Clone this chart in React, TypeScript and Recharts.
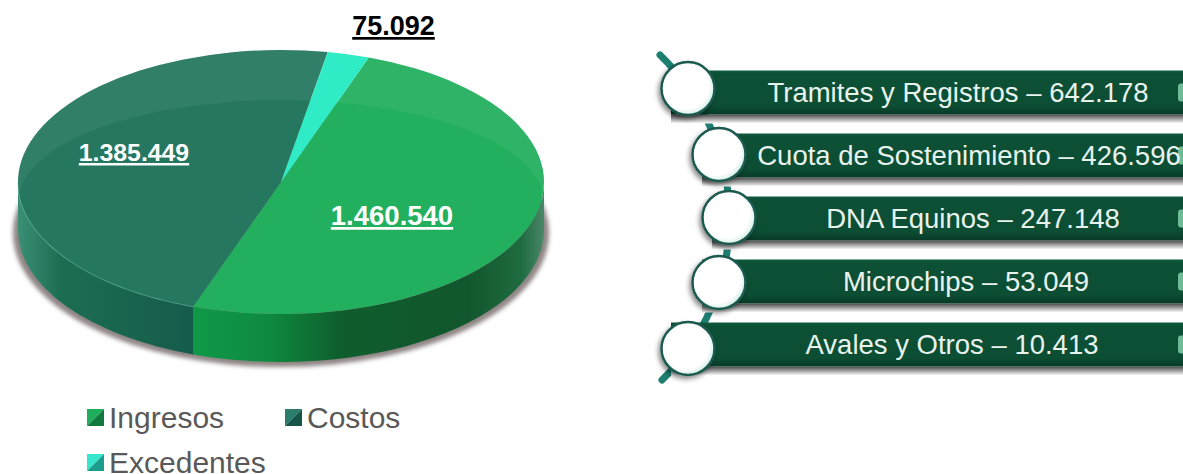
import React from 'react';
import { PieChart, Pie, Legend, BarChart, Bar, XAxis, YAxis } from 'recharts';

const pieNames = ['Ingresos', 'Costos', 'Excedentes'];
const pieValues = [1460540, 1385449, 75092];
const sourceNames = ['Tramites y Registros', 'Cuota de Sostenimiento', 'DNA Equinos', 'Microchips', 'Avales y Otros'];
const sourceValues = [642178, 426596, 247148, 53049, 10413];

// every pill in the reference has the same length, whatever its amount
const pillLength = sourceNames.map(() => 1);

const pieData = pieNames.map((name, i) => ({ name, value: pieValues[i] }));
const sourceData = sourceNames.map((name, i) => ({ name, amount: sourceValues[i], pill: pillLength[i] }));

const topColors = ['#22b05e', '#25775f', '#30ecc6'];
const rimFills = ['url(#rimIngresos)', 'url(#rimCostos)', '#1c6d52'];
const legendHi = ['#1fae5b', '#2a7d68', '#35e6cc'];
const legendLo = ['#0f7a3c', '#155449', '#1c9c8a'];

const SQUASH = 0.502;
const DEPTH = 48;
const valueSpots = [
  { x: 392, y: 225, size: 27.5 },
  { x: 134, y: 161, size: 24.8 },
  { x: 393.5, y: 35, size: 27 },
];
const valueColors = ['#fff', '#fff', '#000'];

const circleShift = [0, 31, 41, 31, 0];
const circleLift = [-4, -1, -1, 1, 4];
const textCenters = [958, 969, 973, 966, 952];

const fmt = (v: number) => String(v).replace(/\B(?=(\d{3})+(?!\d))/g, '.');

const pt = (p: any, deg: number, dy = 0) => {
  const rad = (deg * Math.PI) / 180;
  return {
    x: p.cx + p.outerRadius * Math.cos(rad),
    y: p.cy - p.outerRadius * SQUASH * Math.sin(rad) + dy,
  };
};

const TopSlice = (p: any) => {
  const a = pt(p, p.startAngle);
  const b = pt(p, p.endAngle);
  const rx = p.outerRadius;
  const ry = rx * SQUASH;
  const large = Math.abs(p.startAngle - p.endAngle) > 180 ? 1 : 0;
  const d = `M${p.cx} ${p.cy} L${a.x} ${a.y} A${rx} ${ry} 0 ${large} 1 ${b.x} ${b.y} Z`;
  return (
    <g>
      <path d={d} fill={topColors[p.index]} />
      {p.index < 2 && <path d={d} fill="#fff" fillOpacity={0.06} clipPath="url(#bevelClip)" />}
    </g>
  );
};

const RimSlice = (p: any) => {
  const hi = Math.min(p.startAngle, 0);
  const lo = Math.max(p.endAngle, -180);
  if (hi <= lo) return <g />;
  const rx = p.outerRadius;
  const ry = rx * SQUASH;
  const a = pt(p, hi);
  const b = pt(p, lo);
  return (
    <g>
      <path
        d={`M${a.x} ${a.y} A${rx} ${ry} 0 0 1 ${b.x} ${b.y} L${b.x} ${b.y + DEPTH} A${rx} ${ry} 0 0 0 ${a.x} ${a.y + DEPTH} Z`}
        fill={rimFills[p.index]}
      />
      {p.index === 1 && (
        <path
          d={`M${a.x} ${a.y} A${rx} ${ry} 0 0 1 ${b.x} ${b.y}`}
          fill="none"
          stroke="#7fdcc0"
          strokeOpacity={0.55}
          strokeWidth={1.5}
        />
      )}
    </g>
  );
};

const ValueLabel = (p: any) => {
  const spot = valueSpots[p.index];
  return (
    <text
      x={spot.x}
      y={spot.y}
      textAnchor="middle"
      fill={valueColors[p.index]}
      fontSize={spot.size}
      fontWeight="bold"
      fontFamily="Liberation Sans"
      textDecoration="underline"
    >
      {fmt(p.value)}
    </text>
  );
};

const PieLegend = () => (
  <div style={{ display: 'flex', flexWrap: 'wrap', width: 400 }}>
    {pieNames.map((name, i) => (
      <div key={name} style={{ width: 198, height: 45, display: 'flex', alignItems: 'center' }}>
        <svg width={17} height={17} style={{ marginRight: 5 }}>
          <polygon points="0,0 17,0 0,17" fill={legendHi[i]} />
          <polygon points="17,0 17,17 0,17" fill={legendLo[i]} />
        </svg>
        <span style={{ fontFamily: 'Liberation Sans', fontSize: 30, lineHeight: 0.85, color: '#595959' }}>{name}</span>
      </div>
    ))}
  </div>
);

const SourcePill = (p: any) => {
  const i = p.index;
  const left = p.x + circleShift[i];
  const right = p.x + p.width;
  const cx = left + 27;
  const cy = p.y + p.height / 2 + circleLift[i];
  return (
    <g>
      <rect x={left + 10} y={p.y + p.height} width={right - left - 10} height={9} fill="url(#pillShadow)" />
      <rect x={left + 10} y={p.y} width={right - left - 10} height={p.height} fill="url(#pillBody)" />
      <rect x={right - 5} y={p.y + 13} width={8} height={18} rx={3} fill="#6dbb97" />
      <circle cx={cx} cy={cy} r={26.5} fill="url(#knob)" stroke="#1c5a50" strokeWidth={2.5} filter="url(#knobShadow)" />
      <text
        x={textCenters[i] - 640}
        y={p.y + p.height / 2 + 9.5}
        textAnchor="middle"
        fill="#e8f3ee"
        fontSize={27.5}
        fontFamily="Liberation Sans"
      >
        {`${p.name} – ${fmt(p.amount)}`}
      </text>
    </g>
  );
};

export default function App() {
  return (
    <div style={{ position: 'absolute', left: 0, top: 0, width: 1183, height: 474, overflow: 'hidden', background: '#fff' }}>
      <div style={{ position: 'absolute', left: 0, top: 0 }}>
        <PieChart width={600} height={474} margin={{ top: 0, right: 0, bottom: 0, left: 0 }}>
          <defs>
            <linearGradient id="rimIngresos" gradientUnits="userSpaceOnUse" x1={190} y1={0} x2={546} y2={0}>
              <stop offset="0" stopColor="#0f9a48" />
              <stop offset="0.22" stopColor="#0e8a3e" />
              <stop offset="0.42" stopColor="#0f5e2e" />
              <stop offset="0.78" stopColor="#12562d" />
              <stop offset="0.93" stopColor="#1f6b40" />
              <stop offset="1" stopColor="#4f8a6c" />
            </linearGradient>
            <linearGradient id="rimCostos" gradientUnits="userSpaceOnUse" x1={18} y1={0} x2={190} y2={0}>
              <stop offset="0" stopColor="#3a8f74" />
              <stop offset="0.25" stopColor="#1c6d52" />
              <stop offset="1" stopColor="#155c4c" />
            </linearGradient>
            <filter id="pieShadow" x="-5%" y="-5%" width="110%" height="115%">
              <feGaussianBlur stdDeviation="2" />
            </filter>
            <clipPath id="bevelClip">
              <path d="M18 182 A263 132 0 0 1 544 182 L543 200 A262 100 0 0 0 19 200 Z" />
            </clipPath>
          </defs>
          <ellipse cx={281} cy={233} rx={268} ry={134} fill="#8f8585" filter="url(#pieShadow)" />
          <Pie
            data={pieData}
            dataKey="value"
            nameKey="name"
            cx={281}
            cy={182}
            outerRadius={263}
            startAngle={70.5}
            endAngle={-289.5}
            stroke="none"
            legendType="none"
            shape={RimSlice}
            isAnimationActive={false}
          />
          <Pie
            data={pieData}
            dataKey="value"
            nameKey="name"
            cx={281}
            cy={182}
            outerRadius={263}
            startAngle={70.5}
            endAngle={-289.5}
            stroke="none"
            shape={TopSlice}
            label={ValueLabel}
            labelLine={false}
            isAnimationActive={false}
          />
          <Legend
            content={<PieLegend />}
            wrapperStyle={{ position: 'absolute', left: 87, top: 395, width: 400, bottom: 'auto' }}
          />
        </PieChart>
      </div>
      <div style={{ position: 'absolute', left: 640, top: 50 }}>
        <BarChart
          width={543}
          height={340}
          data={sourceData}
          layout="vertical"
          margin={{ top: 10.5, right: 0, left: 21, bottom: 14.5 }}
        >
          <defs>
            <linearGradient id="pillBody" x1="0" y1="0" x2="0" y2="1">
              <stop offset="0" stopColor="#0e5a3c" />
              <stop offset="0.08" stopColor="#0c5036" />
              <stop offset="0.8" stopColor="#0c4e34" />
              <stop offset="1" stopColor="#093a27" />
            </linearGradient>
            <linearGradient id="pillShadow" x1="0" y1="0" x2="0" y2="1">
              <stop offset="0" stopColor="#4a4a4a" />
              <stop offset="1" stopColor="#ffffff" />
            </linearGradient>
            <radialGradient id="knob" cx="0.45" cy="0.45" r="0.55">
              <stop offset="0.8" stopColor="#ffffff" />
              <stop offset="1" stopColor="#d5efe8" />
            </radialGradient>
            <filter id="knobShadow" x="-30%" y="-30%" width="160%" height="160%">
              <feDropShadow dx="-2" dy="3" stdDeviation="2.5" floodColor="#000" floodOpacity="0.45" />
            </filter>
          </defs>
          <path
            d="M20 5 A227 227 0 0 1 22 330"
            fill="none"
            stroke="#1d7f72"
            strokeWidth={7}
            strokeLinecap="round"
          />
          <XAxis type="number" hide domain={[0, 1]} />
          <YAxis type="category" dataKey="name" hide />
          <Bar dataKey="pill" barSize={44} shape={SourcePill} isAnimationActive={false} />
        </BarChart>
      </div>
    </div>
  );
}
